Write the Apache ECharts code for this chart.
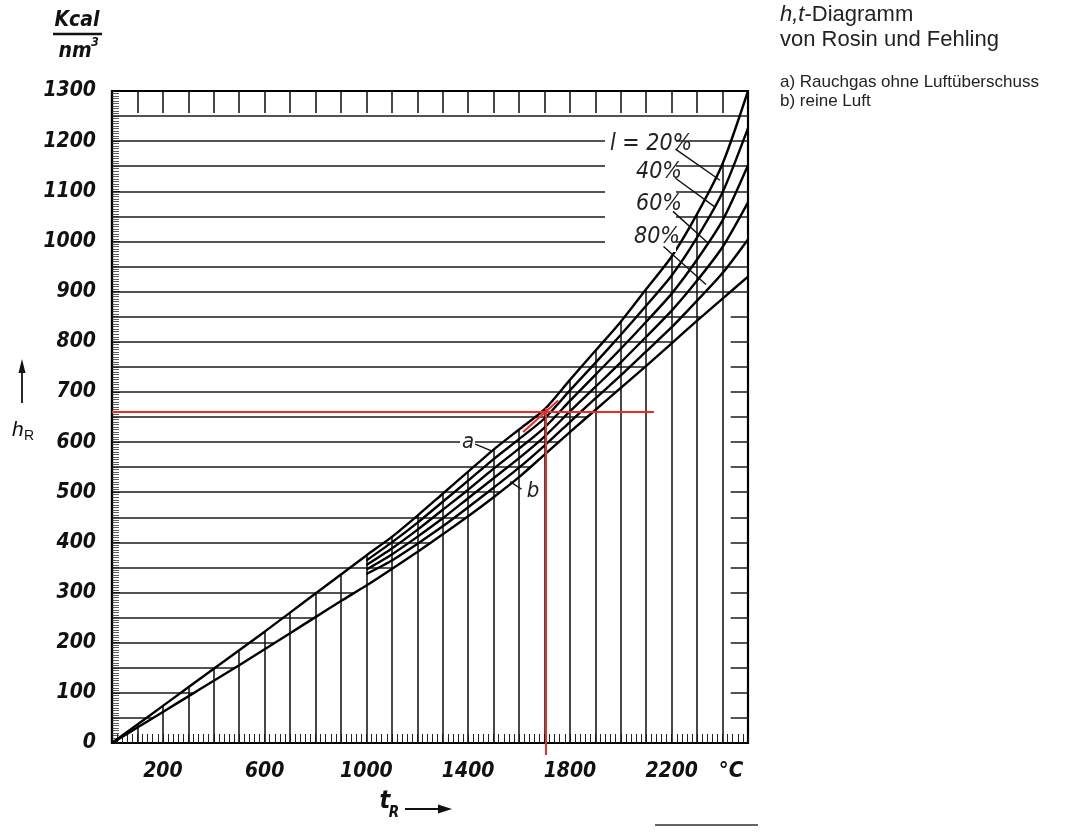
<!DOCTYPE html>
<html>
<head>
<meta charset="utf-8">
<title>h,t-Diagramm</title>
<script src="https://cdn.jsdelivr.net/npm/echarts@6/dist/echarts.min.js"></script>
<style>
  html, body { margin: 0; padding: 0; background: #fff; }
  #main { width: 1072px; height: 834px; }
</style>
</head>
<body>
<div id="main"></div>
<script>
// Temperatur t_R in °C
const temps = [0, 100, 200, 300, 400, 500, 600, 700, 800, 900, 1000, 1100, 1200,
  1300, 1400, 1500, 1600, 1700, 1800, 1900, 2000, 2100, 2200, 2300, 2400, 2500];
// a) Rauchgas ohne Luftueberschuss (kcal/nm3)
const hRauchgas = [0, 37, 74, 111, 148, 185, 222, 260, 298, 336, 374, 411, 453,
  497, 541, 585, 625, 665, 724, 782, 840, 905, 970, 1055, 1155, 1300];
// b) reine Luft
const hLuft = [0, 31, 62, 93, 124, 155, 187, 219, 251, 283, 314, 347, 381,
  416, 452, 490, 530, 575, 620, 664, 708, 752, 797, 842, 886, 930];

// Luftgehalt l = 20..80 %, erst ab 1000 °C gezeichnet
const tempsMix = [1000, 1100, 1200, 1300, 1400, 1500, 1600, 1700, 1800, 1900,
  2000, 2100, 2200, 2300, 2400, 2500];
const hMix20 = [364, 400, 439, 481, 523, 566, 606, 647, 703, 758, 814, 872, 932, 1008, 1098, 1226];
const hMix40 = [355, 388, 425, 465, 505, 547, 587, 629, 682, 734, 786, 840, 896, 964, 1042, 1152];
const hMix60 = [346, 376, 411, 448, 488, 528, 568, 611, 661, 710, 759, 810, 862, 922, 989, 1078];
const hMix80 = [337, 364, 397, 432, 470, 509, 549, 593, 640, 687, 733, 781, 829, 882, 937, 1004];

// Achsenbeschriftung
const tLabels = [200, 600, 1000, 1400, 1800, 2200];
// Netzlinien
const hGrid = [50, 100, 150, 200, 250, 300, 350, 400, 450, 500, 550, 600, 650, 700,
  750, 800, 850, 900, 950, 1000, 1050, 1100, 1150, 1200, 1250];
const tGrid = [100, 200, 300, 400, 500, 600, 700, 800, 900, 1000, 1100, 1200,
  1300, 1400, 1500, 1600, 1700, 1800, 1900, 2000, 2100, 2200, 2300, 2400];

// Ablesebeispiel (rot)
const readT = 1705;
const readH = 660;

const T_MAX = 2500;
const H_MAX = 1300;

function interp(xs, ys, x) {
  for (let i = 1; i < xs.length; i++) {
    if (x <= xs[i]) {
      const f = (x - xs[i - 1]) / (xs[i] - xs[i - 1]);
      return ys[i - 1] + f * (ys[i] - ys[i - 1]);
    }
  }
  return ys[ys.length - 1];
}
// t, bei dem die Kurve den Wert h erreicht
function invert(xs, ys, h) {
  for (let i = 1; i < xs.length; i++) {
    if (h <= ys[i]) {
      const f = (h - ys[i - 1]) / (ys[i] - ys[i - 1]);
      return xs[i - 1] + f * (xs[i] - xs[i - 1]);
    }
  }
  return xs[xs.length - 1];
}
function pairs(xs, ys) {
  return xs.map((x, i) => [x, ys[i]]);
}

// waagerechte Linien bis zur Luftkurve, senkrechte bis zur Rauchgaskurve
let netLines = [];
hGrid.forEach(h => {
  netLines.push({ coords: [[0, h], [invert(temps, hLuft, h), h]] });
});
tGrid.forEach(t => {
  netLines.push({ coords: [[t, 0], [t, interp(temps, hRauchgas, t)]] });
});
// kurze Striche oben und rechts
let edgeTicks = [];
tGrid.forEach(t => {
  edgeTicks.push({ coords: [[t, H_MAX], [t, H_MAX - 44]] });
});
hGrid.forEach(h => {
  if (h < hLuft[hLuft.length - 1]) {
    edgeTicks.push({ coords: [[T_MAX - 68, h], [T_MAX, h]] });
  }
});

// Hinweislinien zu den Beschriftungen
const leaders = [
  { coords: [[2215, 1184], [2390, 1122]] },
  { coords: [[2215, 1126], [2372, 1068]] },
  { coords: [[2205, 1060], [2345, 996]] },
  { coords: [[2168, 990], [2335, 914]] },
  { coords: [[1428, 596], [1494, 582]] },
  { coords: [[1610, 506], [1565, 521]] }
];

const numFont = "'Liberation Sans Narrow', 'DejaVu Sans Condensed', sans-serif";
const curveStyle = { color: '#000', width: 2.4 };

function curve(name, xs, ys) {
  return {
    name: name,
    type: 'line',
    data: pairs(xs, ys),
    showSymbol: false,
    smooth: 0.25,
    lineStyle: curveStyle,
    z: 5,
    silent: true
  };
}

const chart = echarts.init(document.getElementById('main'));
chart.setOption({
  animation: false,
  backgroundColor: '#fff',
  grid: {
    left: 112, right: 324, top: 91, bottom: 91,
    show: true, borderColor: '#000', borderWidth: 2.2
  },
  xAxis: {
    type: 'value',
    min: 0, max: T_MAX, interval: 100,
    axisLine: { show: true, lineStyle: { color: '#000', width: 2.2 } },
    axisTick: { show: true, inside: true, length: 9, lineStyle: { color: '#111', width: 1 } },
    minorTick: { show: true, splitNumber: 5, length: 9, lineStyle: { color: '#222', width: 1 } },
    splitLine: { show: false },
    axisLabel: {
      margin: 18,
      color: '#111',
      fontFamily: numFont, fontSize: 21, fontStyle: 'italic', fontWeight: 'bold',
      formatter: v => (tLabels.indexOf(v) >= 0 ? String(v) : '')
    }
  },
  yAxis: {
    type: 'value',
    min: 0, max: H_MAX, interval: 100,
    axisLine: { show: true, lineStyle: { color: '#000', width: 2.2 } },
    axisTick: { show: true, inside: true, length: 8, lineStyle: { color: '#111', width: 1 } },
    minorTick: { show: true, splitNumber: 20, length: 7, lineStyle: { color: '#333', width: 0.8 } },
    splitLine: { show: false },
    axisLabel: {
      margin: 16,
      color: '#111',
      fontFamily: numFont, fontSize: 21, fontStyle: 'italic', fontWeight: 'bold',
      formatter: v => String(v)
    }
  },
  series: [
    {
      name: 'Netz',
      type: 'lines',
      coordinateSystem: 'cartesian2d',
      data: netLines,
      lineStyle: { color: '#1a1a1a', width: 1.6, opacity: 1 },
      silent: true,
      z: 3
    },
    {
      name: 'Randstriche',
      type: 'lines',
      coordinateSystem: 'cartesian2d',
      data: edgeTicks,
      lineStyle: { color: '#1a1a1a', width: 1.6, opacity: 1 },
      silent: true,
      z: 3
    },
    curve('a', temps, hRauchgas),
    curve('l=20%', tempsMix, hMix20),
    curve('l=40%', tempsMix, hMix40),
    curve('l=60%', tempsMix, hMix60),
    curve('l=80%', tempsMix, hMix80),
    curve('b', temps, hLuft),
    {
      name: 'Hinweise',
      type: 'lines',
      coordinateSystem: 'cartesian2d',
      data: leaders,
      lineStyle: { color: '#111', width: 1.4, opacity: 1 },
      silent: true,
      z: 120
    },
    {
      name: 'Ablesung',
      type: 'lines',
      coordinateSystem: 'cartesian2d',
      clip: false,
      data: [
        { coords: [[0, readH], [2130, readH]] },
        { coords: [[readT, -24], [readT, readH + 8]] },
        { coords: [[1616, 620], [1754, 683]] }
      ],
      lineStyle: { color: '#ee2b2b', width: 2, opacity: 1 },
      silent: true,
      z: 10
    }
  ],
  graphic: [
    // Freiraum hinter den l-Beschriftungen
    { type: 'rect', z: 100, shape: { x: 605, y: 130, width: 71, height: 122 }, style: { fill: '#fff' } },
    { type: 'text', z: 110, x: 610, y: 144, style: { text: 'l = 20%', font: "italic 23px " + numFont, fill: '#222', verticalAlign: 'middle' } },
    { type: 'text', z: 110, x: 636, y: 172, style: { text: '40%', font: "italic 23px " + numFont, fill: '#222', verticalAlign: 'middle' } },
    { type: 'text', z: 110, x: 636, y: 204, style: { text: '60%', font: "italic 23px " + numFont, fill: '#222', verticalAlign: 'middle' } },
    { type: 'text', z: 110, x: 634, y: 237, style: { text: '80%', font: "italic 23px " + numFont, fill: '#222', verticalAlign: 'middle' } },
    { type: 'rect', z: 100, shape: { x: 460, y: 431, width: 15, height: 22 }, style: { fill: '#fff' } },
    { type: 'text', z: 110, x: 468, y: 442, style: { text: 'a', font: "italic 22px " + numFont, fill: '#222', align: 'center', verticalAlign: 'middle' } },
    { type: 'text', z: 110, x: 533, y: 491, style: { text: 'b', font: "italic 22px " + numFont, fill: '#222', align: 'center', verticalAlign: 'middle' } },
    // Einheit
    { type: 'text', x: 77, y: 21, style: { text: 'Kcal', font: "italic bold 21px " + numFont, fill: '#111', align: 'center', verticalAlign: 'middle' } },
    { type: 'line', shape: { x1: 53, y1: 34, x2: 102, y2: 34 }, style: { stroke: '#111', lineWidth: 2.4 } },
    { type: 'text', x: 75, y: 52, style: { text: 'nm', font: "italic bold 21px " + numFont, fill: '#111', align: 'center', verticalAlign: 'middle' } },
    { type: 'text', x: 95, y: 43, style: { text: '3', font: "italic bold 12px " + numFont, fill: '#111', align: 'center', verticalAlign: 'middle' } },
    // h_R mit Pfeil
    { type: 'line', shape: { x1: 22, y1: 403, x2: 22, y2: 368 }, style: { stroke: '#111', lineWidth: 1.8 } },
    { type: 'polygon', shape: { points: [[18.5, 373], [25.5, 373], [22, 359]] }, style: { fill: '#111' } },
    { type: 'text', x: 12, y: 430, style: { text: 'h', font: "italic 21px 'Liberation Sans', Arial, sans-serif", fill: '#111', verticalAlign: 'middle' } },
    { type: 'text', x: 24, y: 436, style: { text: 'R', font: "14px 'Liberation Sans', Arial, sans-serif", fill: '#111', verticalAlign: 'middle' } },
    // t_R mit Pfeil
    { type: 'text', x: 385, y: 801, style: { text: 't', font: "italic bold 25px " + numFont, fill: '#111', align: 'center', verticalAlign: 'middle' } },
    { type: 'text', x: 394, y: 813, style: { text: 'R', font: "italic bold 15px " + numFont, fill: '#111', align: 'center', verticalAlign: 'middle' } },
    { type: 'line', shape: { x1: 405, y1: 809, x2: 441, y2: 809 }, style: { stroke: '#111', lineWidth: 2 } },
    { type: 'polygon', shape: { points: [[438, 804.5], [438, 813.5], [452, 809]] }, style: { fill: '#111' } },
    { type: 'text', x: 731, y: 771, style: { text: '°C', font: "italic bold 22px " + numFont, fill: '#111', align: 'center', verticalAlign: 'middle' } },
    // Titel
    { type: 'text', x: 780, y: 15, style: { text: '{i|h,t}-Diagramm', font: "22px 'Liberation Sans', Arial, sans-serif", fill: '#222', verticalAlign: 'middle',
      rich: { i: { fontStyle: 'italic', fontSize: 22, fontFamily: "'Liberation Sans', Arial, sans-serif", fill: '#222' } } } },
    { type: 'text', x: 780, y: 40, style: { text: 'von Rosin und Fehling', font: "22px 'Liberation Sans', Arial, sans-serif", fill: '#222', verticalAlign: 'middle' } },
    { type: 'text', x: 780, y: 82, style: { text: 'a) Rauchgas ohne Luftüberschuss', font: "17px 'Liberation Sans', Arial, sans-serif", fill: '#222', verticalAlign: 'middle' } },
    { type: 'text', x: 780, y: 101, style: { text: 'b) reine Luft', font: "17px 'Liberation Sans', Arial, sans-serif", fill: '#222', verticalAlign: 'middle' } },
    { type: 'line', shape: { x1: 655, y1: 825, x2: 758, y2: 825 }, style: { stroke: '#666', lineWidth: 2 } }
  ]
});
</script>
</body>
</html>
